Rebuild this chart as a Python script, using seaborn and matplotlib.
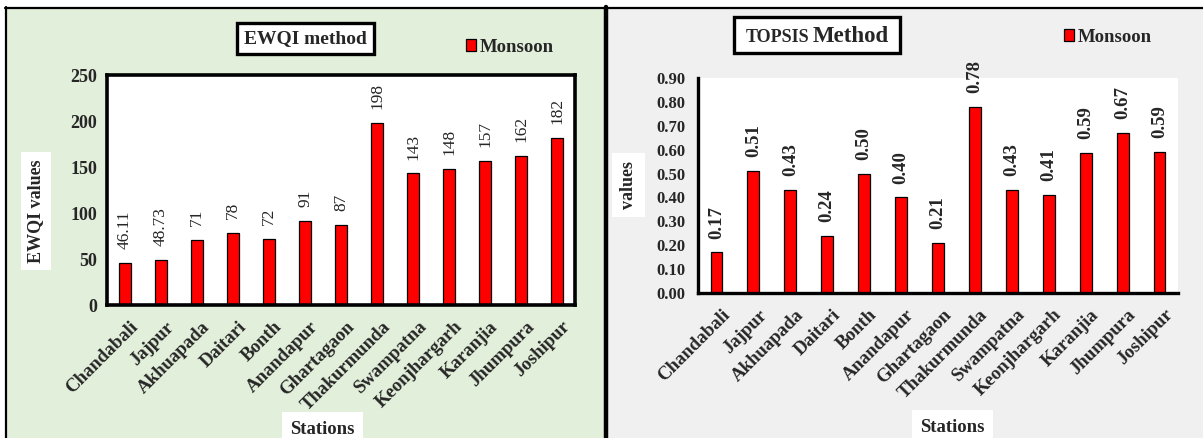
import matplotlib
matplotlib.use("Agg")
import matplotlib.pyplot as plt
import matplotlib.transforms as mtransforms
import seaborn as sns
import pandas as pd
from matplotlib.patches import Rectangle
from matplotlib.lines import Line2D

stations = ["Chandabali", "Jajpur", "Akhuapada", "Daitari", "Bonth", "Anandapur",
            "Ghartagaon", "Thakurmunda", "Swampatna", "Keonjhargarh", "Karanjia",
            "Jhumpura", "Joshipur"]
ewqi = [46.11, 48.73, 71, 78, 72, 91, 87, 198, 143, 148, 157, 162, 182]
ewqi_labels = ["46.11", "48.73", "71", "78", "72", "91", "87", "198", "143",
               "148", "157", "162", "182"]
topsis = [0.17, 0.51, 0.43, 0.24, 0.50, 0.40, 0.21, 0.78, 0.43, 0.41, 0.586, 0.67, 0.59]
ewqi_ticks = [0, 50, 100, 150, 200, 250]
topsis_ticks = [0.0, 0.1, 0.2, 0.3, 0.4, 0.5, 0.6, 0.7, 0.8, 0.9]

sns.set_style("white")
plt.rcParams["font.family"] = ["Liberation Serif", "DejaVu Serif"]

W, H = 1203, 438
fig = plt.figure(figsize=(W / 100, H / 100), dpi=100, facecolor="white")


def fx(x):
    return x / W


def fy(y):
    return 1 - y / H


def rect_px(x0, y0, x1, y1, **kw):
    return Rectangle((fx(x0), fy(y1)), fx(x1) - fx(x0), fy(y0) - fy(y1),
                     transform=fig.transFigure, **kw)


# panel backgrounds and borders
fig.patches.append(rect_px(6, 7, 605, 438, facecolor="#E2EFDA", edgecolor="none", zorder=-10))
fig.patches.append(rect_px(605, 7, 1203, 438, facecolor="#F0F0F0", edgecolor="none", zorder=-10))
fig.lines.append(Line2D([fx(5), fx(1203)], [fy(7.5), fy(7.5)], transform=fig.transFigure,
                        color="black", lw=1.6, zorder=-5))
fig.lines.append(Line2D([fx(6), fx(6)], [fy(7), fy(438)], transform=fig.transFigure,
                        color="black", lw=1.6, zorder=-5))
fig.lines.append(Line2D([fx(605.5), fx(605.5)], [fy(7), fy(438)], transform=fig.transFigure,
                        color="black", lw=3.2, zorder=-5))

bold = {"fontweight": "bold"}
label_offset = mtransforms.ScaledTranslation(0.045, -0.05, fig.dpi_scale_trans)

# ---------- left panel ----------
ax1 = fig.add_axes([fx(107), fy(305), fx(575) - fx(107), fy(75) - fy(305)])
df1 = pd.DataFrame({"Station": stations, "EWQI": ewqi})
sns.barplot(data=df1, x="Station", y="EWQI", color="#FF0000", edgecolor="black",
            linewidth=0.9, width=0.33, saturation=1, ax=ax1, label="Monsoon")
ax1.set_facecolor("white")
ax1.set_ylim(0, 250)
ax1.set_yticks(ewqi_ticks)
ax1.set_yticklabels([str(t) for t in ewqi_ticks], fontsize=13, fontweight="bold")
for s in ax1.spines.values():
    s.set_visible(True)
    s.set_color("black")
    s.set_linewidth(2.6)
ax1.bar_label(ax1.containers[0], labels=ewqi_labels, rotation=90, padding=10, fontsize=12.5)
ax1.set_xlabel("")
ax1.set_ylabel("EWQI values", fontsize=13, fontweight="bold",
               bbox=dict(facecolor="white", edgecolor="none", pad=5))
ax1.yaxis.set_label_coords(fx(44.5), fy(211), transform=fig.transFigure)
ax1.tick_params(axis="y", length=0, pad=7)
ax1.tick_params(axis="x", length=0, pad=6)
ax1.set_xticks(range(len(stations)))
ax1.set_xticklabels(stations, rotation=45, ha="right", rotation_mode="anchor",
                    fontsize=13.5, fontweight="bold")
for lbl in ax1.get_xticklabels():
    lbl.set_transform(lbl.get_transform() + label_offset)
ax1.legend(loc="center left", bbox_to_anchor=(fx(466), fy(47)), bbox_transform=fig.transFigure,
           frameon=False, handlelength=0.55, handleheight=0.55, handletextpad=0.2,
           borderaxespad=0, borderpad=0, prop={"size": 13.5, "weight": "bold"})
fig.text(fx(322), fy(429), "Stations", ha="center", va="center", fontsize=13.5, **bold,
         bbox=dict(facecolor="white", edgecolor="none", pad=6))

# title box left
fig.patches.append(rect_px(237, 23, 374, 54, facecolor="white", edgecolor="black",
                           lw=2.4, zorder=3))
fig.text(fx(305.5), fy(38.5), "EWQI method", ha="center", va="center", fontsize=14,
         zorder=4, **bold)

# ---------- right panel ----------
ax2 = fig.add_axes([fx(698), fy(293), fx(1178) - fx(698), fy(78) - fy(293)])
df2 = pd.DataFrame({"Station": stations, "TOPSIS": topsis})
sns.barplot(data=df2, x="Station", y="TOPSIS", color="#FF0000", edgecolor="black",
            linewidth=0.9, width=0.32, saturation=1, ax=ax2, label="Monsoon")
ax2.set_facecolor("white")
ax2.set_ylim(0, 0.9)
ax2.set_yticks(topsis_ticks)
ax2.set_yticklabels([f"{t:.2f}" for t in topsis_ticks], fontsize=12, fontweight="bold")
for k, s in ax2.spines.items():
    s.set_color("black")
    s.set_linewidth(2.4)
    s.set_visible(k in ("left", "bottom"))
ax2.bar_label(ax2.containers[0], fmt="%.2f", rotation=90, padding=10, fontsize=13.5,
              fontweight="bold")
ax2.set_xlabel("")
ax2.set_ylabel("values", fontsize=13, fontweight="bold",
               bbox=dict(facecolor="white", edgecolor="none", pad=6))
ax2.yaxis.set_label_coords(fx(637), fy(185), transform=fig.transFigure)
ax2.tick_params(axis="y", length=0, pad=9)
ax2.tick_params(axis="x", length=0, pad=6)
ax2.set_xticks(range(len(stations)))
ax2.set_xticklabels(stations, rotation=45, ha="right", rotation_mode="anchor",
                    fontsize=13.5, fontweight="bold")
for lbl in ax2.get_xticklabels():
    lbl.set_transform(lbl.get_transform() + label_offset)
ax2.legend(loc="center left", bbox_to_anchor=(fx(1064), fy(37)), bbox_transform=fig.transFigure,
           frameon=False, handlelength=0.55, handleheight=0.55, handletextpad=0.2,
           borderaxespad=0, borderpad=0, prop={"size": 13.5, "weight": "bold"})
fig.text(fx(952), fy(427), "Stations", ha="center", va="center", fontsize=13.5, **bold,
         bbox=dict(facecolor="white", edgecolor="none", pad=6))

# title box right
fig.patches.append(rect_px(734, 17, 900, 53, facecolor="white", edgecolor="black",
                           lw=2.4, zorder=3))
fig.text(fx(809), fy(37), "TOPSIS", ha="right", va="center", fontsize=13, zorder=4, **bold)
fig.text(fx(813), fy(37), "Method", ha="left", va="center", fontsize=16.5, zorder=4, **bold)

fig.savefig("out.png", dpi=100)
